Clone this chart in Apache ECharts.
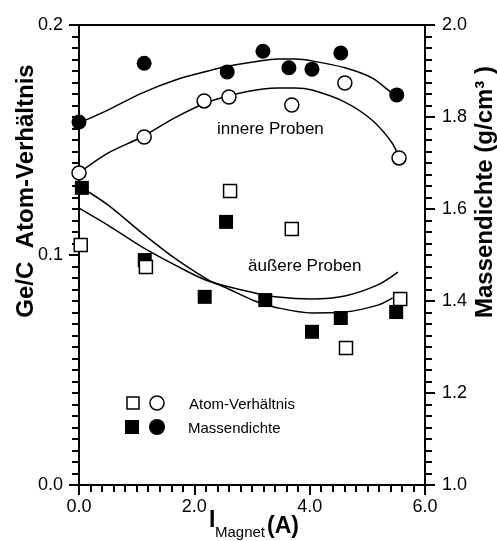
<!DOCTYPE html>
<html>
<head>
<meta charset="utf-8">
<script src="https://cdn.jsdelivr.net/npm/echarts@6.0.0/dist/echarts.min.js"></script>
<style>
  html, body { margin: 0; padding: 0; background: #fff; }
  #main { width: 497px; height: 541px; }
</style>
</head>
<body>
<div id="main"></div>
<script>
// Messpunkte
var atomInnerX = [0.0, 1.13, 2.17, 2.60, 3.69, 4.61, 5.55];
var atomInnerY = [0.1357, 0.1513, 0.1670, 0.1687, 0.1652, 0.1748, 0.1422];
var densInnerX = [0.0, 1.13, 2.57, 3.19, 3.64, 4.04, 4.54, 5.51];
var densInnerY = [1.789, 1.917, 1.898, 1.943, 1.907, 1.904, 1.939, 1.848];
var atomOuterX = [0.03, 1.16, 2.62, 3.69, 4.63, 5.57];
var atomOuterY = [0.1043, 0.0948, 0.1278, 0.1113, 0.0596, 0.0809];
var densOuterX = [0.05, 1.14, 2.18, 2.55, 3.23, 4.04, 4.54, 5.50];
var densOuterY = [1.646, 1.489, 1.409, 1.572, 1.402, 1.333, 1.363, 1.376];

// Ausgleichskurven
var fitDensInnerX = [0.0, 0.50, 1.09, 1.66, 2.24, 2.53, 3.05, 3.45, 3.75, 4.04, 4.61, 5.08, 5.43, 5.51];
var fitDensInnerY = [1.787, 1.815, 1.852, 1.880, 1.900, 1.909, 1.920, 1.926, 1.926, 1.922, 1.907, 1.885, 1.852, 1.848];
var fitAtomInnerX = [0.0, 0.50, 1.09, 1.66, 2.24, 2.88, 3.45, 3.75, 4.04, 4.61, 5.08, 5.43, 5.55];
var fitAtomInnerY = [0.1357, 0.1443, 0.1513, 0.1596, 0.1665, 0.1709, 0.1726, 0.1726, 0.1717, 0.1665, 0.1587, 0.1487, 0.1422];
var fitDensOuterX = [0.0, 0.50, 1.09, 1.66, 2.24, 2.53, 3.05, 3.45, 4.04, 4.61, 5.18, 5.44];
var fitDensOuterY = [1.650, 1.609, 1.548, 1.493, 1.446, 1.430, 1.400, 1.385, 1.374, 1.376, 1.391, 1.407];
var fitAtomOuterX = [0.0, 0.50, 1.09, 1.66, 2.24, 3.05, 3.45, 4.04, 4.61, 5.18, 5.53];
var fitAtomOuterY = [0.1204, 0.1130, 0.1035, 0.0957, 0.0887, 0.0835, 0.0817, 0.0809, 0.0822, 0.0870, 0.0926];

function pairs(xs, ys) {
    return xs.map(function(x, i) { return [x, ys[i]]; });
}

var font = '"Liberation Sans", Arial, sans-serif';
var black = '#000';

function fitLine(xs, ys, axis) {
    return {
        type: 'line',
        yAxisIndex: axis,
        data: pairs(xs, ys),
        smooth: 0.3,
        showSymbol: false,
        symbol: 'none',
        silent: true,
        lineStyle: { color: black, width: 1.5 },
        z: 2
    };
}

function marks(xs, ys, axis, symbol, size, filled) {
    return {
        type: 'scatter',
        yAxisIndex: axis,
        data: pairs(xs, ys),
        symbol: symbol,
        symbolSize: size,
        itemStyle: {
            color: filled ? black : '#fff',
            borderColor: black,
            borderWidth: filled ? 0 : 1.5,
            opacity: 1
        },
        z: 3
    };
}

var chart = echarts.init(document.getElementById('main'), null, { renderer: 'canvas' });

var option = {
    animation: false,
    backgroundColor: '#fff',
    grid: {
        left: 79, right: 72, top: 25, bottom: 56,
        show: true, borderColor: black, borderWidth: 2,
        outerBoundsMode: 'none'
    },
    xAxis: {
        type: 'value',
        min: 0, max: 6, interval: 2,
        axisLine: { show: true, lineStyle: { color: black, width: 2 } },
        axisTick: { show: true, inside: false, length: 10, lineStyle: { color: black, width: 2 } },
        minorTick: { show: true, splitNumber: 10, length: 7, lineStyle: { color: black, width: 2 } },
        splitLine: { show: false },
        minorSplitLine: { show: false },
        axisLabel: {
            margin: 13, color: black, fontSize: 18, fontFamily: font,
            formatter: function(v) { return v.toFixed(1); }
        }
    },
    yAxis: [{
        type: 'value',
        position: 'left',
        min: 0, max: 0.2, interval: 0.1,
        axisLine: { show: true, lineStyle: { color: black, width: 2 } },
        axisTick: { show: true, inside: false, length: 10, lineStyle: { color: black, width: 2 } },
        minorTick: { show: true, splitNumber: 20, length: 7, lineStyle: { color: black, width: 2 } },
        splitLine: { show: false },
        minorSplitLine: { show: false },
        axisLabel: {
            margin: 16, color: black, fontSize: 18, fontFamily: font,
            formatter: function(v) { return v.toFixed(1); }
        }
    }, {
        type: 'value',
        position: 'right',
        min: 1.0, max: 2.0, interval: 0.2,
        axisLine: { show: true, lineStyle: { color: black, width: 2 } },
        axisTick: { show: true, inside: false, length: 10, lineStyle: { color: black, width: 2 } },
        minorTick: { show: true, splitNumber: 8, length: 7, lineStyle: { color: black, width: 2 } },
        splitLine: { show: false },
        minorSplitLine: { show: false },
        axisLabel: {
            margin: 17, color: black, fontSize: 18, fontFamily: font,
            formatter: function(v) { return v.toFixed(1); }
        }
    }],
    series: [
        fitLine(fitDensInnerX, fitDensInnerY, 1),
        fitLine(fitAtomInnerX, fitAtomInnerY, 0),
        fitLine(fitDensOuterX, fitDensOuterY, 1),
        fitLine(fitAtomOuterX, fitAtomOuterY, 0),
        marks(densOuterX, densOuterY, 1, 'rect', 14, true),
        marks(atomOuterX, atomOuterY, 0, 'rect', 13, false),
        marks(densInnerX, densInnerY, 1, 'circle', 15, true),
        marks(atomInnerX, atomInnerY, 0, 'circle', 14, false)
    ],
    graphic: [
        // Achsentitel links
        { type: 'text', x: 26, y: 191, rotation: Math.PI / 2,
          style: { text: 'Ge/C  Atom-Verhältnis', font: 'bold 24px ' + font, fill: black,
                   textAlign: 'center', textVerticalAlign: 'middle' } },
        // Achsentitel rechts
        { type: 'text', x: 485, y: 192, rotation: Math.PI / 2,
          style: { text: 'Massendichte (g/cm³ )', font: 'bold 24px ' + font, fill: black,
                   textAlign: 'center', textVerticalAlign: 'middle' } },
        // x-Achsentitel
        { type: 'text', x: 209, y: 532,
          style: { text: 'I', font: 'bold 23px ' + font, fill: black, textAlign: 'left', textVerticalAlign: 'bottom' } },
        { type: 'text', x: 215, y: 540,
          style: { text: 'Magnet', font: '15px ' + font, fill: black, textAlign: 'left', textVerticalAlign: 'bottom' } },
        { type: 'text', x: 267, y: 538,
          style: { text: '(A)', font: 'bold 23px ' + font, fill: black, textAlign: 'left', textVerticalAlign: 'bottom' } },
        // Beschriftungen
        { type: 'text', x: 217, y: 129,
          style: { text: 'innere Proben', font: '17px ' + font, fill: black, textAlign: 'left', textVerticalAlign: 'middle' } },
        { type: 'text', x: 248, y: 266,
          style: { text: 'äußere Proben', font: '17px ' + font, fill: black, textAlign: 'left', textVerticalAlign: 'middle' } },
        // Legende
        { type: 'rect', shape: { x: 127, y: 397, width: 12, height: 12 },
          style: { fill: '#fff', stroke: black, lineWidth: 1.5 } },
        { type: 'circle', shape: { cx: 157, cy: 403, r: 7 },
          style: { fill: '#fff', stroke: black, lineWidth: 1.5 } },
        { type: 'rect', shape: { x: 125, y: 420, width: 14, height: 14 },
          style: { fill: black } },
        { type: 'circle', shape: { cx: 157, cy: 427, r: 8 },
          style: { fill: black } },
        { type: 'text', x: 189, y: 405,
          style: { text: 'Atom-Verhältnis', font: '15px ' + font, fill: black, textAlign: 'left', textVerticalAlign: 'middle' } },
        { type: 'text', x: 188, y: 429,
          style: { text: 'Massendichte', font: '15px ' + font, fill: black, textAlign: 'left', textVerticalAlign: 'middle' } }
    ]
};

chart.setOption(option);
</script>
</body>
</html>
